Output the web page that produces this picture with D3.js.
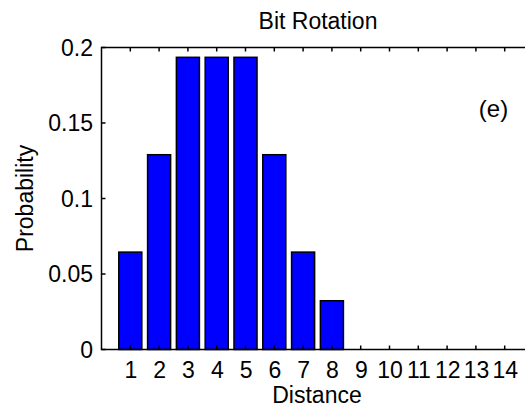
<!DOCTYPE html>
<html><head><meta charset="utf-8">
<script src="https://cdn.jsdelivr.net/npm/d3@7"></script>
<style>
html,body{margin:0;padding:0;background:#fff;}
text{font-family:"Liberation Sans",Arial,Helvetica,sans-serif;fill:#000;}
</style></head><body>
<script>
const distances = [1,2,3,4,5,6,7,8,9,10,11,12,13,14];
const probabilities = [0.0645,0.129,0.1935,0.1935,0.1935,0.129,0.0645,0.0323,0,0,0,0,0,0];
const yTicks = [0,0.05,0.1,0.15,0.2];
const yTickLabels = ["0","0.05","0.1","0.15","0.2"];
const title = "Bit Rotation";
const xLabel = "Distance";
const yLabel = "Probability";
const panelLabel = "(e)";

const W=525,H=411;
const L=101.5,T=47.5,B=349.5;
const x=d3.scaleLinear().domain([0,15]).range([L,L+15*28.8]);
const y=d3.scaleLinear().domain([0,0.2]).range([B,T]);
const svg=d3.select("body").append("svg").attr("width",W).attr("height",H);
const fs="23px";

// bars
svg.append("g").selectAll("rect").data(distances.map((d,i)=>({d,p:probabilities[i]})).filter(o=>o.p>0))
 .join("rect")
 .attr("x",o=>x(o.d-0.4)).attr("width",o=>x(o.d+0.4)-x(o.d-0.4))
 .attr("y",o=>y(o.p)).attr("height",o=>y(0)-y(o.p))
 .attr("fill","#0000ff").attr("stroke","#000").attr("stroke-width",1.5);

// axes
const ax=svg.append("g").attr("stroke","#000").attr("stroke-width",1.5).attr("fill","none");
ax.append("path").attr("d",`M${x(15)},${T}H${L}V${B}H${x(15)}`);
distances.forEach(d=>{
  ax.append("line").attr("x1",x(d)).attr("x2",x(d)).attr("y1",B).attr("y2",B-4);
  ax.append("line").attr("x1",x(d)).attr("x2",x(d)).attr("y1",T).attr("y2",T+4);
});
yTicks.forEach(t=>{
  ax.append("line").attr("x1",L).attr("x2",L+4).attr("y1",y(t)).attr("y2",y(t));
});

// tick labels
svg.append("g").selectAll("text").data(distances).join("text")
 .attr("x",d=>x(d)+0.6).attr("y",377.5).attr("text-anchor","middle")
 .style("font-size",fs).text(d=>d);
svg.append("g").selectAll("text").data(yTicks).join("text")
 .attr("x",93).attr("y",t=>y(t)+8).attr("text-anchor","end")
 .style("font-size",fs).text((t,i)=>yTickLabels[i]);

svg.append("text").attr("x",318).attr("y",29).attr("text-anchor","middle")
 .style("font-size",fs).text(title);
svg.append("text").attr("x",317).attr("y",403).attr("text-anchor","middle")
 .style("font-size",fs).text(xLabel);
svg.append("text").attr("transform",`translate(33,${(T+B)/2}) rotate(-90)`).attr("text-anchor","middle")
 .style("font-size",fs).text(yLabel);
svg.append("text").attr("x",493.5).attr("y",117).attr("text-anchor","middle")
 .style("font-size","24px").text(panelLabel);
</script></body></html>
